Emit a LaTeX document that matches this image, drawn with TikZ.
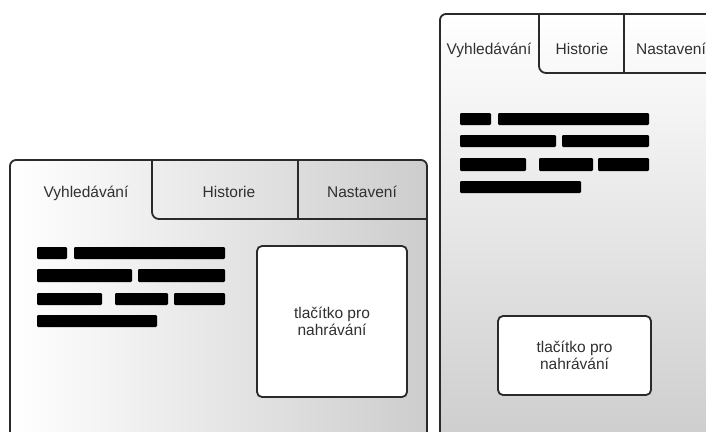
\documentclass[tikz,border=0pt]{standalone}
\usepackage{fontspec}
\setmainfont{Liberation Sans}
\definecolor{linec}{HTML}{2A2A2A}
\definecolor{textc}{HTML}{303030}
\definecolor{grayend}{HTML}{CDCDCD}
\begin{document}
\begin{tikzpicture}[x=1pt,y=-1pt,
  frame/.style={draw=linec,line width=1.8pt},
  bar/.style={fill=black,rounded corners=1.2pt},
  lbl/.style={text=textc,font=\fontsize{15.5}{18}\selectfont,inner sep=0pt,anchor=base},
  btn/.style={draw=linec,line width=1.8pt,fill=white,rounded corners=5pt,align=center,
    text=textc,font=\fontsize{15.5}{17}\selectfont,inner sep=0pt}]
\useasboundingbox (0,0) rectangle (706,431);
\clip (0,0) rectangle (706,431);
% ---------- left panel ----------
\shade[left color=white,right color=grayend,rounded corners=6pt] (10,445) -- (10,160) -- (427,160) -- (427,445) -- cycle;
\draw[frame,rounded corners=6pt] (10,445) -- (10,160) -- (427,160) -- (427,445);
\draw[frame,rounded corners=7pt] (152,160) -- (152,219) -- (427,219);
\draw[frame] (298,160) -- (298,219);
\node[lbl] (lt1) at (86,197) {Vyhledávání};
\node[lbl] (lt2) at (229,197) {Historie};
\node[lbl] (lt3) at (362,197) {Nastavení};
\fill[bar] (37,247) rectangle (67,259);
\fill[bar] (74,247) rectangle (225,259);
\fill[bar] (37,269) rectangle (132,282);
\fill[bar] (138,269) rectangle (225,282);
\fill[bar] (37,293) rectangle (102,305);
\fill[bar] (115,293) rectangle (168,305);
\fill[bar] (174,293) rectangle (225,305);
\fill[bar] (37,315) rectangle (157,327);
\node[btn,minimum width=150pt,minimum height=151pt] (lbtn) at (332,321.5) {tlačítko pro\\nahrávání};
% ---------- right panel ----------
\shade[top color=white,bottom color=grayend,rounded corners=6pt] (440,445) -- (440,14) -- (720,14) -- (720,445) -- cycle;
\draw[frame,rounded corners=6pt] (440,445) -- (440,14) -- (720,14);
\draw[frame,rounded corners=7pt] (539,14) -- (539,73) -- (720,73);
\draw[frame] (624,14) -- (624,73);
\node[lbl] (rt1) at (489,54) {Vyhledávání};
\node[lbl] (rt2) at (582,54) {Historie};
\node[lbl] (rt3) at (671,54) {Nastavení};
\fill[bar] (460,113) rectangle (491,125);
\fill[bar] (498,113) rectangle (649,125);
\fill[bar] (460,135) rectangle (556,147);
\fill[bar] (562,135) rectangle (649,147);
\fill[bar] (460,158) rectangle (526,171);
\fill[bar] (539,158) rectangle (593,171);
\fill[bar] (598,158) rectangle (649,171);
\fill[bar] (460,181) rectangle (581,193);
\node[btn,minimum width=153pt,minimum height=79pt] (rbtn) at (574.5,355.5) {tlačítko pro\\nahrávání};
\end{tikzpicture}
\end{document}
